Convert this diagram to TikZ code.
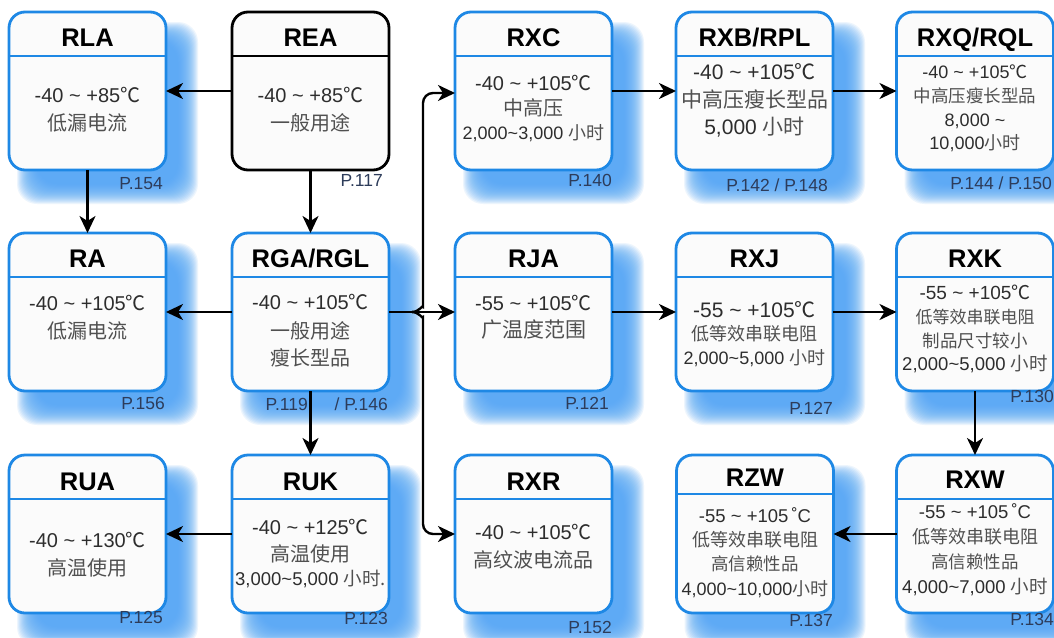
\documentclass[tikz,border=0pt]{standalone}
\usepackage{fontspec}
\setmainfont{Liberation Sans}
\newfontfamily\cjk{Noto Sans CJK SC}
\usetikzlibrary{arrows.meta}
\pgfdeclarelayer{bg}
\pgfsetlayers{bg,main}
\definecolor{boxblue}{RGB}{30,136,229}
\definecolor{boxfill}{RGB}{251,251,251}
\definecolor{shadowc}{RGB}{80,165,245}
\definecolor{bodyc}{RGB}{45,45,45}
\definecolor{zhc}{RGB}{80,80,80}
\definecolor{pagec}{RGB}{45,60,90}
\newcommand\zh[1]{{\cjk\color{zhc}#1}}
\newcommand\cel{{\cjk ℃}}
\newcommand\tl{\textasciitilde}
\begin{document}
\begin{tikzpicture}[x=1pt,y=-1pt,
 bx/.style={draw=boxblue, line width=2.8pt, fill=boxfill, rounded corners=16pt, minimum width=157pt, minimum height=158pt, inner sep=0pt, outer sep=0pt},
 dv/.style={draw=boxblue, line width=1.8pt},
 ttl/.style={font=\fontsize{25.5}{25}\selectfont\bfseries, anchor=base, yshift=-9pt, inner sep=0pt},
 ln/.style={font=\fontsize{#1}{#1}\selectfont, anchor=base, yshift={-0.36*#1pt}, inner sep=0pt, text=bodyc},
 pg/.style={font=\fontsize{17.5}{17}\selectfont, anchor=base east, yshift=-6pt, inner sep=0pt, text=pagec},
 conn/.style={line width=2.4pt, black},
 arr/.style={conn, -{Stealth[length=17pt,width=16pt,inset=5pt]}},
]
\useasboundingbox (0,0) rectangle (1054,637);

% boxes
\node[bx] (rla) at (87.5,91) {};
\node[bx,draw=black] (rea) at (310.5,91) {};
\node[bx] (rxc) at (533.5,91) {};
\node[bx] (rxb) at (754.5,91) {};
\node[bx] (rxq) at (975,91) {};
\node[bx] (ra) at (87.5,312) {};
\node[bx] (rga) at (310.5,312) {};
\node[bx] (rja) at (533.5,312) {};
\node[bx] (rxj) at (754.5,312) {};
\node[bx] (rxk) at (975,312) {};
\node[bx] (rua) at (87.5,534) {};
\node[bx] (ruk) at (310.5,534) {};
\node[bx] (rxr) at (533.5,534) {};
\node[bx] (rzw) at (755,534) {};
\node[bx] (rxw) at (975,534) {};

\begin{pgfonlayer}{bg}
\fill[white] (0,0) rectangle (1054,637);
\foreach \n in {rla,rxc,rxb,rxq,ra,rga,rja,rxj,rxk,rua,ruk,rxr,rzw,rxw}{
 \foreach \e in {12,11,...,-8}{
  \fill[shadowc, opacity=0.1, rounded corners=20pt] ([shift={({20-(\e)},{22-(\e)})}]\n.north west) rectangle ([shift={({20+(\e)},{22+(\e)})}]\n.south east);
 }}
\end{pgfonlayer}

% dividers
\foreach \n in {rla,rxc,rxb,rxq,ra,rga,rja,rxj,rxk,rua,ruk,rxr,rxw}{
 \draw[dv] ([yshift=-44pt]\n.north west) -- ([yshift=-44pt]\n.north east);
}
\draw[dv] ([yshift=-39pt]rzw.north west) -- ([yshift=-39pt]rzw.north east);
\draw[dv,draw=black] ([yshift=-44pt]rea.north west) -- ([yshift=-44pt]rea.north east);

% titles
\node[ttl] (rla-t) at (87.5,37) {RLA};
\node[ttl] (rea-t) at (310.5,37) {REA};
\node[ttl] (rxc-t) at (533.5,37) {RXC};
\node[ttl] (rxb-t) at (754.5,37) {RXB/RPL};
\node[ttl] (rxq-t) at (975,37) {RXQ/RQL};
\node[ttl] (ra-t) at (87.5,258) {RA};
\node[ttl] (rga-t) at (310.5,258) {RGA/RGL};
\node[ttl] (rja-t) at (533.5,258) {RJA};
\node[ttl] (rxj-t) at (754.5,258) {RXJ};
\node[ttl] (rxk-t) at (975,258) {RXK};
\node[ttl] (rua-t) at (87.5,481) {RUA};
\node[ttl] (ruk-t) at (310.5,481) {RUK};
\node[ttl] (rxr-t) at (533.5,481) {RXR};
\node[ttl] (rzw-t) at (755,477) {RZW};
\node[ttl] (rxw-t) at (975,479) {RXW};

% body lines
\node[ln=20] (rla-1) at (87.5,95) {-40 \tl{} +85\cel};
\node[ln=20] (rla-2) at (87.5,123) {\zh{低漏电流}};
\node[ln=20] (rea-1) at (310.5,95) {-40 \tl{} +85\cel};
\node[ln=20] (rea-2) at (310.5,123) {\zh{一般用途}};
\node[ln=20] (rxc-1) at (533.5,83) {-40 \tl{} +105\cel};
\node[ln=20] (rxc-2) at (533.5,108) {\zh{中高压}};
\node[ln=18] (rxc-3) at (533.5,133) {2,000\tl{}3,000 \zh{小时}};
\node[ln=21] (rxb-1) at (754.5,72) {-40 \tl{} +105\cel};
\node[ln=21] (rxb-2) at (754.5,100) {\zh{中高压瘦长型品}};
\node[ln=21] (rxb-3) at (754.5,127) {5,000 \zh{小时}};
\node[ln=18] (rxq-1) at (975,72) {-40 \tl{} +105\cel};
\node[ln=17.5] (rxq-2) at (975,96) {\zh{中高压瘦长型品}};
\node[ln=18] (rxq-3) at (975,120) {8,000 \tl};
\node[ln=18] (rxq-4) at (975,143) {10,000\zh{小时}};
\node[ln=20] (ra-1) at (87.5,303) {-40 \tl{} +105\cel};
\node[ln=20] (ra-2) at (87.5,331) {\zh{低漏电流}};
\node[ln=20] (rga-1) at (310.5,302) {-40 \tl{} +105\cel};
\node[ln=20] (rga-2) at (310.5,331) {\zh{一般用途}};
\node[ln=20] (rga-3) at (310.5,358) {\zh{瘦长型品}};
\node[ln=20] (rja-1) at (533.5,303) {-55 \tl{} +105\cel};
\node[ln=21] (rja-2) at (533.5,330) {\zh{广温度范围}};
\node[ln=21] (rxj-1) at (754.5,310) {-55 \tl{} +105\cel};
\node[ln=18] (rxj-2) at (754.5,334) {\zh{低等效串联电阻}};
\node[ln=18] (rxj-3) at (754.5,358) {2,000\tl{}5,000 \zh{小时}};
\node[ln=19] (rxk-1) at (975,293) {-55 \tl{} +105\cel};
\node[ln=17] (rxk-2) at (975,317) {\zh{低等效串联电阻}};
\node[ln=17.5] (rxk-3) at (975,341) {\zh{制品尺寸较小}};
\node[ln=18.5] (rxk-4) at (975,364) {2,000\tl{}5,000 \zh{小时}};
\node[ln=20] (rua-1) at (87.5,540) {-40 \tl{} +130\cel};
\node[ln=20] (rua-2) at (87.5,568) {\zh{高温使用}};
\node[ln=20] (ruk-1) at (310.5,527) {-40 \tl{} +125\cel};
\node[ln=20] (ruk-2) at (310.5,554) {\zh{高温使用}};
\node[ln=18.5] (ruk-3) at (310.5,579) {3,000\tl{}5,000 \zh{小时.}};
\node[ln=20] (rxr-1) at (533.5,532) {-40 \tl{} +105\cel};
\node[ln=20] (rxr-2) at (533.5,560) {\zh{高纹波电流品}};
\node[ln=18.5] (rzw-1) at (755,516) {-55 \tl{} +105\,˚C};
\node[ln=18] (rzw-2) at (755,540) {\zh{低等效串联电阻}};
\node[ln=17.5] (rzw-3) at (755,564) {\zh{高信赖性品}};
\node[ln=18] (rzw-4) at (755,589) {4,000\tl{}10,000\zh{小时}};
\node[ln=18.5] (rxw-1) at (975,512) {-55 \tl{} +105\,˚C};
\node[ln=18] (rxw-2) at (975,537) {\zh{低等效串联电阻}};
\node[ln=17.5] (rxw-3) at (975,562) {\zh{高信赖性品}};
\node[ln=18.5] (rxw-4) at (975,587) {4,000\tl{}7,000 \zh{小时}};

% page labels
\node[pg] (rla-p) at (163,183) {P.154};
\node[pg] (rea-p) at (383,180) {P.117};
\node[pg] (rxc-p) at (612,180) {P.140};
\node[pg] (rxb-p) at (828,185) {P.142 / P.148};
\node[pg] (rxq-p) at (1052,183) {P.144 / P.150};
\node[pg] (ra-p) at (165,403) {P.156};
\node[pg] (rga-p1) at (308,404) {P.119};
\node[pg] (rga-p2) at (388,404) {/ P.146};
\node[pg] (rja-p) at (609,403) {P.121};
\node[pg] (rxj-p) at (833,408) {P.127};
\node[pg] (rxk-p) at (1054,396) {P.130};
\node[pg] (rua-p) at (163,617) {P.125};
\node[pg] (ruk-p) at (388,618) {P.123};
\node[pg] (rxr-p) at (612,627) {P.152};
\node[pg] (rzw-p) at (833,620) {P.137};
\node[pg] (rxw-p) at (1054,619) {P.134};

% connectors
\draw[arr] (rea.west) -- (rla.east);
\draw[arr] (rla.south) -- (ra.north);
\draw[arr] (rea.south) -- (rga.north);
\draw[arr] (rga.west) -- (ra.east);
\draw[arr] (rga.south) -- (ruk.north);
\draw[arr] (ruk.west) -- (rua.east);
\draw[arr] (rxc.east) -- (rxb.west);
\draw[arr] (rxb.east) -- (rxq.west);
\draw[arr] (rja.east) -- (rxj.west);
\draw[arr] (rxj.east) -- (rxk.west);
\draw[arr] (rxk.south) -- (rxw.north);
\draw[arr] (rxw.west) -- (rzw.east);

\coordinate (tip) at (412,312);
\coordinate (bu) at (423,297);
\coordinate (bd) at (423,327);
\draw[conn] (rga.east) -- (tip);
\draw[arr] (tip) -- (rja.west);
\draw[arr, rounded corners=10pt] (tip) to[out=0,in=-90] (bu) |- ([yshift=-2pt]rxc.west);
\draw[arr, rounded corners=10pt] (tip) to[out=0,in=90] (bd) |- (rxr.west);
\end{tikzpicture}
\end{document}
